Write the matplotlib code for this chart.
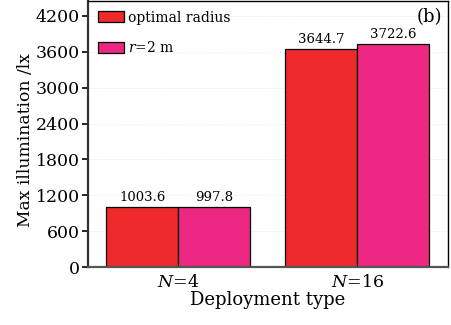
import numpy as np
import matplotlib
matplotlib.use('Agg')
import matplotlib.pyplot as plt

# data
groups = ['$N$=4', '$N$=16']
optimal_radius = [1003.6, 3644.7]
r_2m = [997.8, 3722.6]
yticks = [0, 600, 1200, 1800, 2400, 3000, 3600, 4200]

plt.rcParams['font.family'] = ['DejaVu Serif']
plt.rcParams['mathtext.fontset'] = 'dejavuserif'

fig = plt.figure(figsize=(4.52, 3.25), dpi=100)
ax = fig.add_axes([88 / 452, 58 / 325, 360 / 452, 266 / 325])

x = np.arange(len(groups))
w = 0.40
b1 = ax.bar(x - w / 2, optimal_radius, w, color='#ee2a2a', edgecolor='black', linewidth=0.9,
            label='optimal radius')
b2 = ax.bar(x + w / 2, r_2m, w, color='#ec2882', edgecolor='black', linewidth=0.9,
            label='$r$=2 m')

for bars in (b1, b2):
    for rect in bars:
        h = rect.get_height()
        ax.text(rect.get_x() + rect.get_width() / 2, h + 50, '%.1f' % h,
                ha='center', va='bottom', fontsize=9.5)

ax.set_xlim(-0.503, 1.508)
ax.set_ylim(0, 4450)
ax.set_yticks(yticks)
ax.set_xticks(x)
ax.set_xticklabels(groups)
ax.tick_params(axis='both', labelsize=12.5, direction='out', length=4, width=1.2, pad=2)
ax.tick_params(axis='x', length=0, pad=5)
ax.grid(axis='y', color='#f0f0f0', linewidth=0.6, linestyle='--')
ax.set_axisbelow(True)
for s in ax.spines.values():
    s.set_linewidth(1.0)
ax.spines['left'].set_linewidth(1.6)
ax.spines['bottom'].set_linewidth(1.6)
ax.spines['left'].set_color('#333333')
ax.spines['bottom'].set_color('#555555')

ax.set_xlabel('Deployment type', fontsize=13, labelpad=0)
ax.set_ylabel('Max illumination /lx', fontsize=12.3)
ax.yaxis.set_label_coords(-0.15, 0.477)

ax.legend(loc='upper left', frameon=False, fontsize=10, handlelength=1.9, handleheight=0.85,
          labelspacing=1.1, borderaxespad=0.3, handletextpad=0.3)
ax.text(0.985, 0.975, '(b)', transform=ax.transAxes, ha='right', va='top', fontsize=13)

plt.savefig('out.png', dpi=100)
